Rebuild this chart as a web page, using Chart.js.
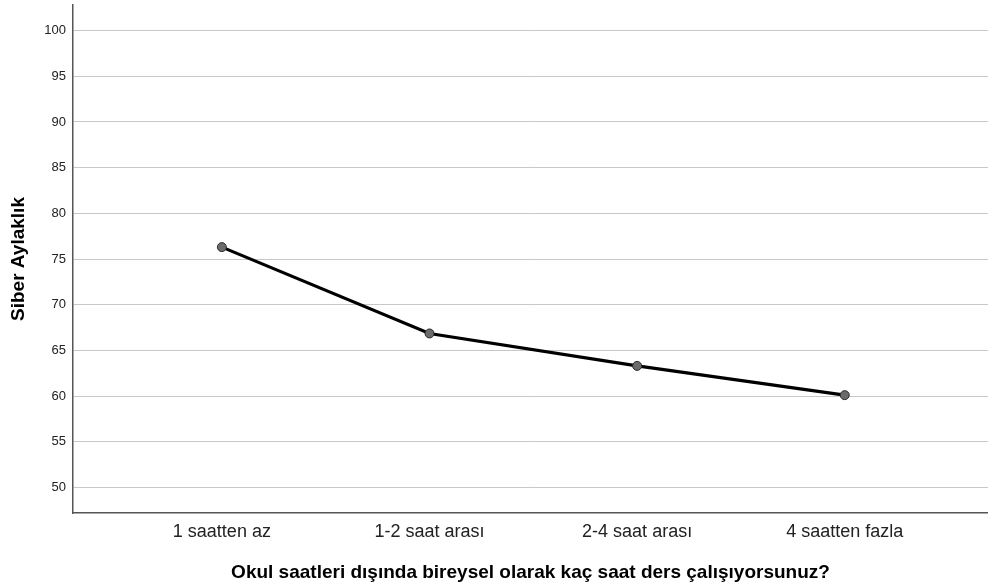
<!DOCTYPE html>
<html>
<head>
<meta charset="utf-8">
<script src="https://cdn.jsdelivr.net/npm/chart.js@4/dist/chart.umd.min.js"></script>
<style>
  html, body { margin: 0; padding: 0; background: #fff; }
  #wrap { width: 988px; height: 587px; }
</style>
</head>
<body>
<div id="wrap"><canvas id="lineChart" width="988" height="587"></canvas></div>
<script>
// Data
const categories = ['1 saatten az', '1-2 saat arası', '2-4 saat arası', '4 saatten fazla'];
const meanValues = [76.3, 66.85, 63.3, 60.1];
const yTicks = [50, 55, 60, 65, 70, 75, 80, 85, 90, 95, 100];

const fontFamily = "'Liberation Sans', Arial, Helvetica, sans-serif";

const ctx = document.getElementById('lineChart').getContext('2d');
const lineChart = new Chart(ctx, {
    type: 'line',
    data: {
        datasets: [{
            label: 'Siber Aylaklık',
            data: meanValues.map((v, i) => ({ x: i, y: v })),
            borderColor: '#000',
            borderWidth: 3.2,
            pointRadius: 4.5,
            pointBackgroundColor: '#6b6b6b',
            pointBorderColor: '#2a2a2a',
            pointBorderWidth: 1,
            tension: 0
        }]
    },
    options: {
        responsive: false,
        animation: false,
        layout: { autoPadding: false, padding: { top: 5, right: 0, bottom: 0, left: 0 } },
        plugins: {
            legend: { display: false },
            tooltip: { enabled: false }
        },
        scales: {
            x: {
                type: 'linear',
                min: -0.717,
                max: 3.69,
                afterBuildTicks: scale => {
                    scale.ticks = categories.map((c, i) => ({ value: i }));
                },
                afterFit: scale => {
                    scale.height = 74;
                    scale.paddingLeft = 0;
                    scale.paddingRight = 0;
                },
                grid: { display: false, drawTicks: false },
                border: { display: true, color: '#555', width: 1.5 },
                ticks: {
                    autoSkip: false,
                    maxRotation: 0,
                    padding: 8,
                    color: '#222',
                    font: { family: fontFamily, size: 18 },
                    callback: v => categories[v]
                },
                title: {
                    display: true,
                    text: 'Okul saatleri dışında bireysel olarak kaç saat ders çalışıyorsunuz?',
                    color: '#000',
                    font: { family: fontFamily, size: 19, weight: 'bold' },
                    padding: { top: 0, bottom: 3 }
                }
            },
            y: {
                min: 47.2,
                max: 102.8,
                afterBuildTicks: scale => {
                    scale.ticks = yTicks.map(v => ({ value: v }));
                },
                afterFit: scale => {
                    scale.width = 73;
                    scale.paddingTop = 0;
                    scale.paddingBottom = 0;
                },
                grid: { color: '#c8c8c8', lineWidth: 1, drawTicks: false },
                border: { display: true, color: '#555', width: 1.5 },
                ticks: {
                    padding: 7,
                    color: '#222',
                    font: { family: fontFamily, size: 13 }
                },
                title: {
                    display: true,
                    text: 'Siber Aylaklık',
                    color: '#000',
                    font: { family: fontFamily, size: 19, weight: 'bold' },
                    padding: { top: 7, bottom: 0 }
                }
            }
        }
    }
});
</script>
</body>
</html>
